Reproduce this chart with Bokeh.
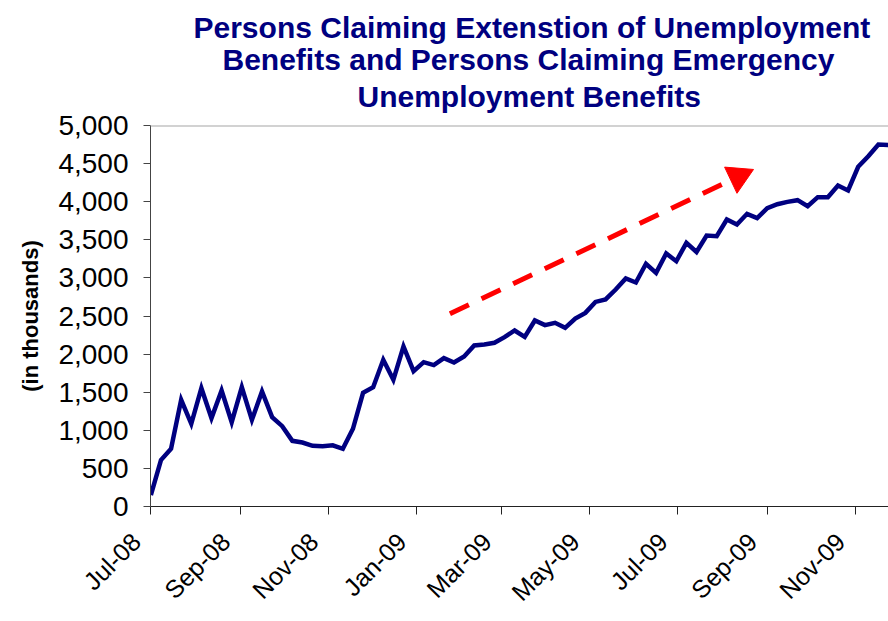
import math
import pandas as pd
from bokeh.plotting import figure
from bokeh.models import (ColumnDataSource, Range1d, FixedTicker, NumeralTickFormatter,
                          Title, Span)
from bokeh.embed import file_html
from bokeh.resources import INLINE

# ---- data ----
title_lines = ["Persons Claiming Extenstion of Unemployment",
               "Benefits and Persons Claiming Emergency",
               "Unemployment Benefits"]
y_label = "(in thousands)"

first_week = "2008-07-05"   # weekly observations (week ending)
claimants = [150, 610, 757, 1400, 1085, 1553, 1160, 1522, 1107, 1566,
             1137, 1509, 1172, 1054, 862, 840, 796, 792, 803, 757,
             1020, 1492, 1566, 1925, 1663, 2100, 1776, 1894, 1855, 1947,
             1890, 1969, 2113, 2126, 2148, 2222, 2310, 2226, 2441, 2380,
             2410, 2344, 2467, 2541, 2685, 2717, 2848, 2992, 2940, 3185,
             3066, 3320, 3219, 3460, 3340, 3556, 3547, 3766, 3701, 3841,
             3784, 3915, 3967, 3998, 4020, 3942, 4060, 4060, 4213, 4147,
             4458, 4597, 4751, 4745]
dates = pd.date_range(first_week, periods=len(claimants), freq="7D")

x_tick_dates = ["2008-07-05", "2008-09-05", "2008-11-05", "2009-01-05", "2009-03-05",
                "2009-05-05", "2009-07-05", "2009-09-05", "2009-11-05"]
x_tick_labels = ["Jul-08", "Sep-08", "Nov-08", "Jan-09", "Mar-09",
                 "May-09", "Jul-09", "Sep-09", "Nov-09"]
y_ticks = [0, 500, 1000, 1500, 2000, 2500, 3000, 3500, 4000, 4500, 5000]

# trend arrow (annotation): dashed shaft and triangular head
arrow_shaft_x = ["2009-01-28 04:00", "2009-08-16 00:00"]
arrow_shaft_y = [2529, 4329]
arrow_head_x = ["2009-08-16 00:00"]
arrow_head_y = [4329]

# ---- figure ----
NAVY = "#000080"
FONT = "Liberation Sans"
LABEL_PAD = "\u00a0" * 3   # nudges the slanted labels down-left of their tick

x_start = pd.Timestamp("2008-07-04 18:00")
x_end = pd.Timestamp("2009-11-28 00:00")

p = figure(width=888, height=621, x_axis_type="datetime",
           output_backend="svg", toolbar_location=None,
           x_range=Range1d(x_start, x_end), y_range=Range1d(0, 5000),
           min_border_left=150, min_border_right=0, min_border_top=125,
           min_border_bottom=115)
p.background_fill_color = "white"
p.border_fill_color = "white"
p.outline_line_color = None
p.xgrid.visible = False
p.ygrid.visible = False

# top border of plot area
p.add_layout(Span(location=5000, dimension="width", line_color="#A6A6A6", line_width=2))

src = ColumnDataSource(dict(date=dates, value=claimants))
p.line("date", "value", source=src, line_color=NAVY, line_width=4.5, line_join="miter")

# arrow
p.line([pd.Timestamp(v) for v in arrow_shaft_x], arrow_shaft_y,
       line_color="#FF0000", line_width=5, line_dash="21 14")
dir_angle = math.atan2(144, 304)  # screen direction of the trend arrow
p.scatter([pd.Timestamp(v) for v in arrow_head_x], arrow_head_y, marker="triangle",
          size=29, angle=dir_angle - math.pi / 2, fill_color="#FF0000",
          line_color="#FF0000", line_width=1)

# titles: p.title sits outermost; added titles stack from the plot upward
p.title.text = title_lines[0]
t3 = Title(text=title_lines[2])
t2 = Title(text=title_lines[1])
p.add_layout(t3, "above")
p.add_layout(t2, "above")
for t, off, so in [(p.title, 43, 16), (t2, 72, -21), (t3, 207, 25)]:
    t.text_font = FONT
    t.text_font_size = "30px"
    t.text_font_style = "bold"
    t.text_color = NAVY
    t.align = "left"
    t.offset = off
    t.standoff = so

# x axis
xa = p.xaxis[0]
tick_ms = [pd.Timestamp(d).value / 1e6 for d in x_tick_dates]
xa.ticker = FixedTicker(ticks=tick_ms)
xa.major_label_overrides = {m: s + LABEL_PAD for m, s in zip(tick_ms, x_tick_labels)}
xa.major_label_orientation = math.pi / 4
xa.major_label_text_font = FONT
xa.major_label_text_font_size = "25px"
xa.major_label_text_color = "black"
xa.major_label_standoff = 8
xa.minor_tick_line_color = None
xa.major_tick_out = 8
xa.major_tick_in = 0
xa.axis_line_color = "#222222"
xa.major_tick_line_color = "#222222"

ya = p.yaxis[0]
ya.ticker = FixedTicker(ticks=y_ticks)
ya.formatter = NumeralTickFormatter(format="0,0")
ya.major_label_text_font = FONT
ya.major_label_text_font_size = "28px"
ya.major_label_text_color = "black"
ya.major_label_standoff = 15
ya.minor_tick_line_color = None
ya.major_tick_out = 7
ya.major_tick_in = 0
ya.axis_line_color = "#444444"
ya.major_tick_line_color = "#444444"
ya.axis_label = y_label
ya.axis_label_text_font = FONT
ya.axis_label_text_font_size = "22px"
ya.axis_label_text_font_style = "bold"
ya.axis_label_text_color = "black"
ya.axis_label_standoff = 12

open("out.html", "w").write(file_html(p, INLINE))
